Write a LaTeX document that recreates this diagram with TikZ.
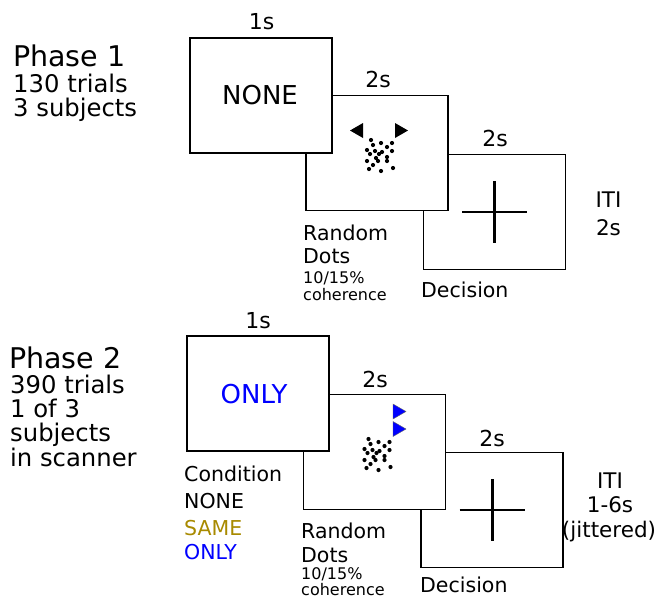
\documentclass[tikz,border=0pt]{standalone}
\usepackage{fontspec}
\setmainfont{DejaVu Sans}
\usepackage{tikz}
\usetikzlibrary{calc}
\definecolor{sameclr}{rgb}{0.66,0.54,0.}
\definecolor{onlyclr}{rgb}{0.,0.,1.}
\tikzstyle{every node}=[inner sep=0pt]
\tikzstyle{screen}=[draw=black,fill=white,line width=1.4pt,minimum width=142pt,minimum height=115pt]
\tikzstyle{phase}=[anchor=base west,font=\fontsize{28.5}{30}\selectfont]
\tikzstyle{info}=[anchor=base west,font=\fontsize{24.3}{26}\selectfont]
\tikzstyle{timing}=[anchor=base,font=\fontsize{22}{24}\selectfont]
\tikzstyle{iti}=[anchor=base,font=\fontsize{21.5}{23}\selectfont]
\tikzstyle{cue}=[font=\fontsize{26}{28}\selectfont]
\tikzstyle{lbl}=[anchor=base west,font=\fontsize{20.5}{22}\selectfont]
\tikzstyle{small}=[anchor=base west,font=\fontsize{16}{18}\selectfont]
\tikzstyle{arrowcue}=[fill=onlyclr,draw=black!60,line width=0.4pt]
\newcommand{\dotcloud}[1]{%
  \foreach \dx/\dy in {-6/-13,4/-10,15/-10,-4/-8,-10/-3,-2/-2,5/-1,10/-6,-7/1,2/1,15/-2,-1/5,10/4,-10/8,1/8,10/8,-4/12,-8/16,4/18,16/15}
    \fill ($(#1)+(\dx,\dy)$) circle (2.1pt);}
\newcommand{\fixcross}[1]{%
  \draw[line width=3pt] ($(#1)+(0,-31)$) -- ($(#1)+(0,31)$);
  \draw[line width=1.6pt] ($(#1)+(-32.5,0)$) -- ($(#1)+(32.5,0)$);}

\begin{document}
\begin{tikzpicture}[line cap=butt,line join=miter,x=1pt,y=-1pt]
\useasboundingbox (0,0) rectangle (655,598);
% phase 1
\node[phase] (ph1) at (13,66) {Phase 1};
\node[info] (ph1a) at (13,92) {130 trials};
\node[info] (ph1b) at (13,116) {3 subjects};
\node[screen] (c1) at (494.5,212) {};
\node[screen] (b1) at (377,153) {};
\node[screen] (a1) at (261,95.5) {};
\node[cue] (cue1) at (260,95.5) {NONE};
\node[timing] (t1a) at (261.5,29) {1s};
\node[timing] (t1b) at (378,87) {2s};
\node[timing] (t1c) at (495,146) {2s};
\fill (b1.center) ++(-27,-22.5) -- ++(13,-7.5) -- ++(0,15) -- cycle;
\fill (b1.center) ++(31,-22.5) -- ++(-13,-7.5) -- ++(0,15) -- cycle;
\dotcloud{b1.center}
\fixcross{c1.center}
\node[lbl] (rd1a) at (303,240) {Random};
\node[lbl] (rd1b) at (303,263) {Dots};
\node[small] (rd1c) at (303,283) {10/15\%};
\node[small] (rd1d) at (303,300) {coherence};
\node[lbl] (dec1) at (421,297) {Decision};
\node[iti] (iti1a) at (608.5,207) {ITI};
\node[iti] (iti1b) at (608.5,235) {2s};
% phase 2
\node[phase] (ph2) at (9,368) {Phase 2};
\node[info] (ph2a) at (10,393) {390 trials};
\node[info] (ph2b) at (10,417) {1 of 3};
\node[info] (ph2c) at (10,441) {subjects};
\node[info] (ph2d) at (10,466) {in scanner};
\node[screen] (c2) at (492,510) {};
\node[screen] (b2) at (374.5,452) {};
\node[screen] (a2) at (258,393.5) {};
\node[cue,text=onlyclr] (cue2) at (254,394) {ONLY};
\node[timing] (t2a) at (258,328) {1s};
\node[timing] (t2b) at (375,387) {2s};
\node[timing] (t2c) at (492,446) {2s};
\filldraw[arrowcue] (b2.center) ++(31.5,-40.5) -- ++(-13,-7.5) -- ++(0,15) -- cycle;
\filldraw[arrowcue] (b2.center) ++(31.5,-23) -- ++(-13,-7.5) -- ++(0,15) -- cycle;
\dotcloud{b2.center}
\fixcross{c2.center}
\node[lbl] (cond) at (184,481) {Condition};
\node[lbl] (cond1) at (184,508) {NONE};
\node[lbl,text=sameclr] (cond2) at (184,535) {SAME};
\node[lbl,text=onlyclr] (cond3) at (184,559) {ONLY};
\node[lbl] (rd2a) at (301,538) {Random};
\node[lbl] (rd2b) at (301,562) {Dots};
\node[small] (rd2c) at (301,579) {10/15\%};
\node[small] (rd2d) at (301,595) {coherence};
\node[lbl] (dec2) at (420,592) {Decision};
\node[iti] (iti2a) at (610,488) {ITI};
\node[iti] (iti2b) at (610,512) {1-6s};
\node[iti] (iti2c) at (609,537) {(jittered)};
\end{tikzpicture}
\end{document}
